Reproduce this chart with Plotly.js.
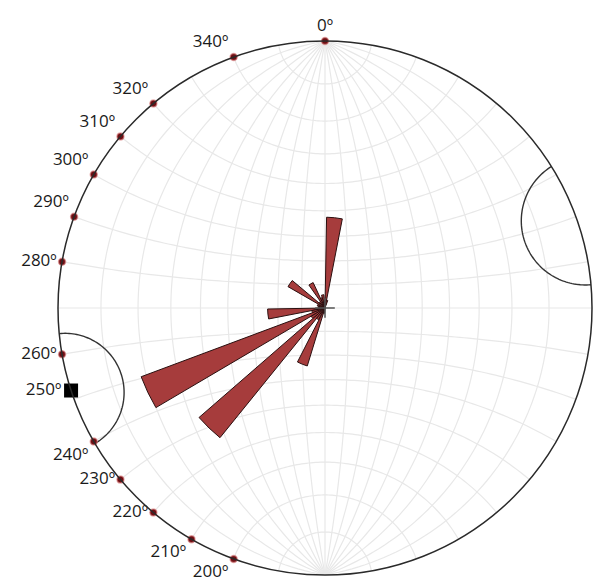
<!DOCTYPE html>
<html>
<head>
<meta charset="utf-8">
<script src="https://cdn.plot.ly/plotly-3.0.1.min.js"></script>
<style>html,body{margin:0;padding:0;background:#fff;}#chart{width:598px;height:583px;}</style>
</head>
<body>
<div id="chart"></div>
<script>
// ---------- DATA ----------
// Rose petals: azimuth of petal centre (deg) and relative length (fraction of net radius)
const petalAzimuth = [6, 15, 350, 340, 330, 320, 305, 290, 280, 264, 254, 244.5, 234, 224, 214, 202, 190];
const petalLength  = [0.34, 0.03, 0.05, 0.04, 0.105, 0.03, 0.16, 0.03, 0.025, 0.215, 0.05, 0.735, 0.06, 0.625, 0.05, 0.227, 0.02];
// Azimuth markers on the primitive circle
const dotAzimuth = [0, 340, 320, 310, 300, 290, 280, 260, 240, 230, 220, 210, 200];
const dotLabel = ['0º','340º','320º','310º','300º','290º','280º','260º','240º','230º','220º','210º','200º'];
// Mean direction (square) and cones around the horizontal axis
const squareAzimuth = [252];
const squareLabel = ['250º'];
const coneAxis = [252, 71.5];
const coneHalfAngle = [12.5, 13.5];

// ---------- PLACEMENT / STYLE ----------
const dotLabelPos = ['top center','top left','top left','top left','top left','top left','middle left',
                     'middle left','bottom left','middle left','middle left','bottom left','bottom left'];
const d2r = Math.PI/180;

function project(x, y, z){ // x east, y north, z down (>=0) -> equal-angle (Wulff) projection
  const pl = Math.asin(Math.max(-1, Math.min(1, z)));
  const r = Math.tan((Math.PI/2 - pl)/2);
  const th = Math.atan2(x, y)/d2r;
  return [r, th];
}
// Wulff net grid (10 deg)
const gR = [], gT = [];
function pushPt(p){ gR.push(p[0]); gT.push(p[1]); }
function brk(){ gR.push(null); gT.push(null); }
for (let d = 10; d <= 90; d += 10) {
  for (const s of [1, -1]) {
    if (d === 90 && s === -1) continue;
    for (let t = 0; t <= 180; t += 1.5) {
      const tr = t*d2r;
      pushPt(project(s*Math.sin(tr)*Math.cos(d*d2r), Math.cos(tr), Math.sin(tr)*Math.sin(d*d2r)));
    }
    brk();
  }
}
for (let a = 10; a <= 90; a += 10) {
  for (const s of [1, -1]) {
    if (a === 90 && s === -1) continue;
    for (let t = 0; t <= 180; t += 1.5) {
      const tr = t*d2r;
      pushPt(project(Math.sin(a*d2r)*Math.cos(tr), s*Math.cos(a*d2r), Math.sin(a*d2r)*Math.sin(tr)));
    }
    brk();
  }
}
// cones
const cR = [], cT = [];
coneAxis.forEach((b, i) => {
  const al = coneHalfAngle[i]*d2r;
  const ax = [Math.sin(b*d2r), Math.cos(b*d2r), 0];
  const h = [Math.cos(b*d2r), -Math.sin(b*d2r), 0];
  for (let t = -90; t <= 90; t += 2) {
    const tr = t*d2r;
    const v = [Math.cos(al)*ax[0] + Math.sin(al)*Math.sin(tr)*h[0],
               Math.cos(al)*ax[1] + Math.sin(al)*Math.sin(tr)*h[1],
               Math.sin(al)*Math.cos(tr)];
    const p = project(v[0], v[1], v[2]);
    cR.push(p[0]); cT.push(p[1]);
  }
  cR.push(null); cT.push(null);
});
// ticks at cardinal points
const tR = [], tT = [];
[0, 90, 180, 270].forEach(a => { tR.push(1, 1.035, null); tT.push(a, a, null); });

const labelFont = {family:'"Open Sans", "DejaVu Sans", sans-serif', size:17, color:'#1a1a1a'};
const traces = [
  {type:'scatterpolar', subplot:'polar', mode:'lines', r:gR, theta:gT, line:{color:'rgb(232,232,232)', width:1.2}, hoverinfo:'skip', connectgaps:false},
  {type:'barpolar', subplot:'polar2', r:petalLength, theta:petalAzimuth, width:10,
   marker:{color:'#a63c3c', line:{color:'#2a1010', width:1}}},
  {type:'scatterpolar', subplot:'polar2', mode:'markers', r:[0], theta:[0], marker:{symbol:'cross-thin', size:14, line:{color:'#555', width:1.5}}},
  {type:'scatterpolar', subplot:'polar2', mode:'lines', r:cR, theta:cT, line:{color:'#333', width:1.4}, connectgaps:false, cliponaxis:false},
  {type:'scatterpolar', subplot:'polar2', mode:'lines', r:tR, theta:tT, line:{color:'#444', width:1.2}, connectgaps:false, cliponaxis:false},
  {type:'scatterpolar', subplot:'polar2', mode:'markers+text', r:dotAzimuth.map(()=>1), theta:dotAzimuth, cliponaxis:false,
   text:dotLabel, textposition:dotLabelPos, textfont:labelFont,
   marker:{color:'#6e0f14', size:7, line:{color:'rgba(220,130,130,0.6)', width:1.5}}},
  {type:'scatterpolar', subplot:'polar2', mode:'markers+text', r:squareAzimuth.map(()=>1), theta:squareAzimuth, cliponaxis:false,
   text:squareLabel, textposition:'middle left', textfont:labelFont,
   marker:{symbol:'square', color:'#000', size:14}}
];

const dom = {x:[58/598, 592/598], y:[7.5/583, 542.5/583]};
const layout = {
  width:598, height:583,
  margin:{l:0, r:0, t:0, b:0},
  paper_bgcolor:'#fff',
  showlegend:false,
  polar:{
    domain:dom, bgcolor:'#fff',
    radialaxis:{range:[0,1], visible:false, showgrid:false},
    angularaxis:{direction:'clockwise', rotation:90, showgrid:false, showticklabels:false, ticks:'', showline:false}
  },
  polar2:{
    domain:dom, bgcolor:'rgba(0,0,0,0)',
    radialaxis:{range:[0,1], visible:false, showgrid:false},
    angularaxis:{direction:'clockwise', rotation:90, showgrid:false, showticklabels:false, ticks:'',
      showline:true, linecolor:'#2a2a2a', linewidth:1.5}
  }
};
Plotly.newPlot('chart', traces, layout, {displayModeBar:false, staticPlot:true});
</script>
</body>
</html>
